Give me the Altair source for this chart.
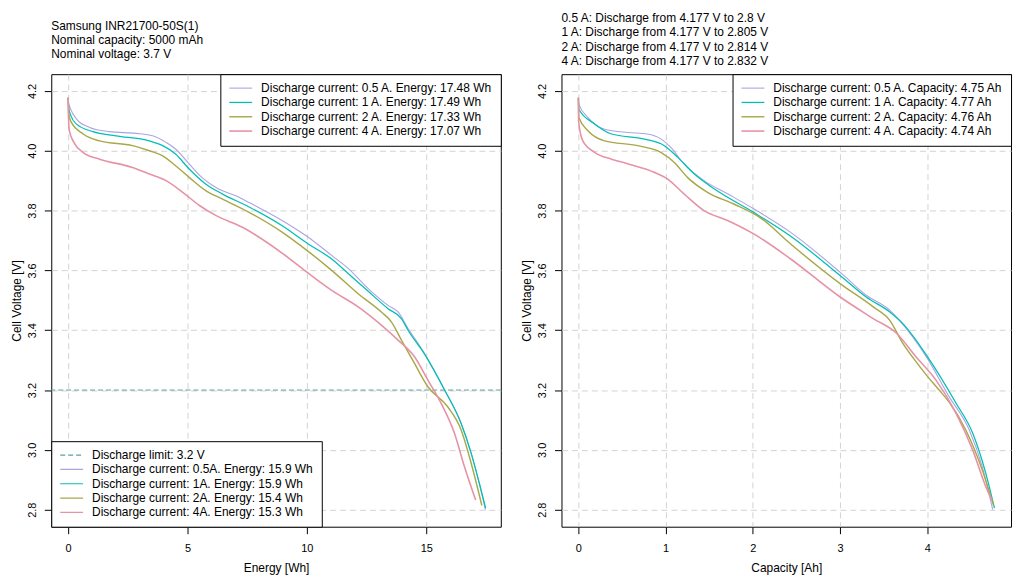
import altair as alt
import pandas as pd

FONT = "Liberation Sans, Arial, sans-serif"

# ---------------- labels ----------------
labels_energy = [
    "Discharge current: 0.5 A. Energy: 17.48 Wh",
    "Discharge current: 1 A. Energy: 17.49 Wh",
    "Discharge current: 2 A. Energy: 17.33 Wh",
    "Discharge current: 4 A. Energy: 17.07 Wh",
]
labels_capacity = [
    "Discharge current: 0.5 A. Capacity: 4.75 Ah",
    "Discharge current: 1 A. Capacity: 4.77 Ah",
    "Discharge current: 2 A. Capacity: 4.76 Ah",
    "Discharge current: 4 A. Capacity: 4.74 Ah",
]
labels_limit = [
    "Discharge limit: 3.2 V",
    "Discharge current: 0.5A. Energy: 15.9 Wh",
    "Discharge current: 1A. Energy: 15.9 Wh",
    "Discharge current: 2A. Energy: 15.4 Wh",
    "Discharge current: 4A. Energy: 15.3 Wh",
]
title_left = ["Samsung INR21700-50S(1)", "Nominal capacity: 5000 mAh", "Nominal voltage: 3.7 V"]
title_right = [
    "0.5 A: Discharge from 4.177 V to 2.8 V",
    "1 A: Discharge from 4.177 V to 2.805 V",
    "2 A: Discharge from 4.177 V to 2.814 V",
    "4 A: Discharge from 4.177 V to 2.832 V",
]
limit_value = [3.2]

colors = ["#ACA4E2", "#00BFB5", "#A8A848", "#E693A6"]
widths = [1.1, 1.6, 1.1, 1.1]
limit_color = "#5F9EA0"

# ---------------- energy panel data ----------------
e05_E = [0, 0.02, 0.1, 0.35, 0.9, 1.73, 2.85, 3.54, 4.1, 4.5, 5.07, 5.6, 6.3, 7.0, 7.6, 8.96, 10.0, 11.04, 11.74, 12.57, 13.4, 13.82, 14.24, 14.93, 15.77, 16.46, 16.88, 17.22, 17.48]
e05_V = [4.177, 4.16, 4.14, 4.106, 4.078, 4.064, 4.058, 4.05, 4.028, 4.006, 3.956, 3.911, 3.872, 3.85, 3.826, 3.767, 3.714, 3.65, 3.606, 3.539, 3.483, 3.461, 3.406, 3.322, 3.2, 3.089, 2.989, 2.889, 2.8]

e1_E = [0, 0.02, 0.1, 0.35, 1.04, 2.0, 3.4, 3.96, 4.5, 5.07, 5.76, 6.45, 7.56, 8.95, 10.03, 11.04, 11.74, 12.57, 13.4, 13.96, 14.24, 14.93, 15.77, 16.46, 16.88, 17.22, 17.49]
e1_V = [4.177, 4.145, 4.12, 4.089, 4.064, 4.05, 4.033, 4.017, 3.989, 3.939, 3.889, 3.856, 3.813, 3.75, 3.69, 3.638, 3.589, 3.53, 3.472, 3.439, 3.40, 3.32, 3.2, 3.089, 2.99, 2.89, 2.805]

e2_E = [0, 0.02, 0.1, 0.63, 1.32, 2.7, 3.4, 3.96, 4.5, 5.07, 5.76, 6.45, 7.56, 8.96, 10.0, 11.04, 12.15, 13.12, 13.54, 13.96, 14.51, 15.07, 15.9, 16.46, 16.88, 17.33]
e2_V = [4.177, 4.128, 4.1, 4.056, 4.033, 4.017, 4.0, 3.983, 3.95, 3.911, 3.867, 3.839, 3.795, 3.728, 3.667, 3.6, 3.522, 3.461, 3.428, 3.367, 3.289, 3.211, 3.144, 3.067, 2.956, 2.814]

e4_E = [0, 0.01, 0.05, 0.24, 0.63, 1.32, 2.7, 3.4, 4.1, 4.8, 5.5, 6.2, 7.3, 8.96, 10.0, 11.04, 12.15, 13.12, 13.82, 14.51, 15.07, 15.62, 16.18, 16.6, 17.07]
e4_V = [4.177, 4.122, 4.067, 4.028, 3.994, 3.972, 3.944, 3.922, 3.9, 3.861, 3.817, 3.783, 3.744, 3.658, 3.594, 3.533, 3.478, 3.417, 3.367, 3.311, 3.233, 3.156, 3.056, 2.944, 2.832]

# ---------------- capacity panel data ----------------
c05_C = [0, 0.005, 0.11, 0.30, 0.57, 0.79, 0.95, 1.06, 1.21, 1.44, 1.71, 2.01, 2.43, 3.0, 3.30, 3.57, 3.68, 3.99, 4.25, 4.48, 4.63, 4.75]
c05_V = [4.177, 4.156, 4.111, 4.072, 4.061, 4.056, 4.039, 4.011, 3.956, 3.9, 3.856, 3.806, 3.728, 3.594, 3.517, 3.467, 3.433, 3.311, 3.178, 3.067, 2.944, 2.8]

c1_C = [0, 0.005, 0.19, 0.38, 0.76, 0.985, 1.14, 1.33, 1.56, 2.01, 2.43, 3.0, 3.30, 3.57, 3.72, 3.99, 4.33, 4.52, 4.67, 4.77]
c1_V = [4.177, 4.139, 4.089, 4.056, 4.039, 4.017, 3.978, 3.922, 3.872, 3.794, 3.715, 3.583, 3.511, 3.461, 3.422, 3.317, 3.156, 3.056, 2.922, 2.805]

c2_C = [0, 0.005, 0.11, 0.30, 0.68, 0.95, 1.1, 1.25, 1.48, 1.78, 2.09, 2.43, 3.0, 3.38, 3.57, 3.72, 3.87, 3.99, 4.12, 4.25, 4.44, 4.63, 4.76]
c2_V = [4.177, 4.111, 4.067, 4.033, 4.017, 3.994, 3.961, 3.911, 3.861, 3.822, 3.775, 3.689, 3.556, 3.478, 3.433, 3.356, 3.295, 3.25, 3.205, 3.16, 3.067, 2.933, 2.814]

c4_C = [0, 0.002, 0.05, 0.19, 0.38, 0.57, 0.87, 1.02, 1.21, 1.44, 1.71, 2.01, 2.43, 3.0, 3.38, 3.65, 3.87, 4.1, 4.33, 4.52, 4.67, 4.74]
c4_V = [4.177, 4.1, 4.033, 3.994, 3.972, 3.956, 3.928, 3.906, 3.856, 3.8, 3.767, 3.722, 3.639, 3.511, 3.439, 3.389, 3.311, 3.233, 3.122, 3.0, 2.878, 2.832]

x_ticks_e = [0, 5, 10, 15]
x_ticks_c = [0, 1, 2, 3, 4]
y_ticks = [2.8, 3.0, 3.2, 3.4, 3.6, 3.8, 4.0, 4.2]


def frame(xs_list, vs_list, labels, xname):
    rows = []
    for xs, vs, lab in zip(xs_list, vs_list, labels):
        for a, b in zip(xs, vs):
            rows.append({xname: a, "V": b, "series": lab})
    return pd.DataFrame(rows)


df_e = frame([e05_E, e1_E, e2_E, e4_E], [e05_V, e1_V, e2_V, e4_V], labels_energy, "E")
df_c = frame([c05_C, c1_C, c2_C, c4_C], [c05_V, c1_V, c2_V, c4_V], labels_capacity, "C")
df_lim = pd.DataFrame({"V": limit_value, "lab": [labels_limit[0]]})

W, H = 452, 455
SYM = "M-1,0L3.6,0"


def legend(orient):
    return alt.Legend(
        title=None, orient=orient, offset=0, fillColor="white", strokeColor="black",
        padding=8, symbolType=SYM, symbolSize=100, symbolStrokeWidth=1.2,
        labelFont=FONT, labelFontSize=12, labelColor="black", labelOffset=21,
        rowPadding=2.4, labelLimit=500, cornerRadius=0,
    )


y_enc = alt.Y(
    "V:Q",
    scale=alt.Scale(domain=[2.743, 4.256], nice=False, zero=False),
    axis=alt.Axis(values=y_ticks, format=".1f", title="Cell Voltage [V]",
                  labelAngle=270, labelAlign="center", labelBaseline="bottom",
                  labelPadding=7, titlePadding=3),
)


def x_enc(field, dom, ticks, title):
    return alt.X(
        field + ":Q",
        scale=alt.Scale(domain=dom, nice=False, zero=False),
        axis=alt.Axis(values=ticks, format="d", title=title, labelPadding=9, titlePadding=9),
    )


rule = alt.Chart(df_lim).mark_rule(strokeWidth=1).encode(
    y=alt.Y("V:Q"),
    stroke=alt.Stroke("lab:N", scale=alt.Scale(domain=labels_limit, range=[limit_color] + colors),
                      legend=legend("bottom-left")),
    strokeDash=alt.StrokeDash("lab:N", scale=alt.Scale(domain=labels_limit,
                              range=[[5, 3], [1, 0], [1, 0], [1, 0], [1, 0]]),
                              legend=legend("bottom-left")),
)

lines_e = alt.Chart(df_e).mark_line(clip=True, interpolate="monotone").encode(
    x=x_enc("E", [-0.708, 18.125], x_ticks_e, "Energy [Wh]"),
    y=y_enc,
    color=alt.Color("series:N", scale=alt.Scale(domain=labels_energy, range=colors),
                    legend=legend("top-right")),
    strokeWidth=alt.StrokeWidth("series:N", scale=alt.Scale(domain=labels_energy, range=widths), legend=None),
)

left = alt.layer(rule, lines_e).properties(
    width=W, height=H,
    title=alt.TitleParams(text=title_left, anchor="start", frame="group", font=FONT,
                          fontSize=12, fontWeight="normal", color="black",
                          lineHeight=14.4, baseline="bottom", offset=0.5),
)

right = alt.Chart(df_c).mark_line(clip=True, interpolate="monotone").encode(
    x=x_enc("C", [-0.194, 4.96], x_ticks_c, "Capacity [Ah]"),
    y=y_enc,
    color=alt.Color("series:N", scale=alt.Scale(domain=labels_capacity, range=colors),
                    legend=legend("top-right")),
    strokeWidth=alt.StrokeWidth("series:N", scale=alt.Scale(domain=labels_capacity, range=widths), legend=None),
).properties(
    width=W, height=H,
    title=alt.TitleParams(text=title_right, anchor="start", frame="group", font=FONT,
                          fontSize=12, fontWeight="normal", color="black",
                          lineHeight=14.4, baseline="bottom", offset=0, dy=6.2),
)

chart = alt.hconcat(left, right, spacing=61, bounds="flush").resolve_scale(
    x="independent", y="independent", color="independent",
    stroke="independent", strokeDash="independent", strokeWidth="independent",
).resolve_legend(color="independent").configure(
    font=FONT, padding={"left": 1.5, "top": 2, "right": 4, "bottom": 0},
).configure_view(
    stroke="black", strokeWidth=1,
).configure_axis(
    domain=False, tickColor="black", tickSize=7, labelColor="black", labelFontSize=11,
    labelFont=FONT, titleFont=FONT, titleFontSize=12, titleFontWeight="normal",
    titleColor="black", gridColor="#D3D3D3", gridDash=[6, 4], gridWidth=1,
)

chart.save("out.html", embed_options={"renderer": "svg", "actions": False})
